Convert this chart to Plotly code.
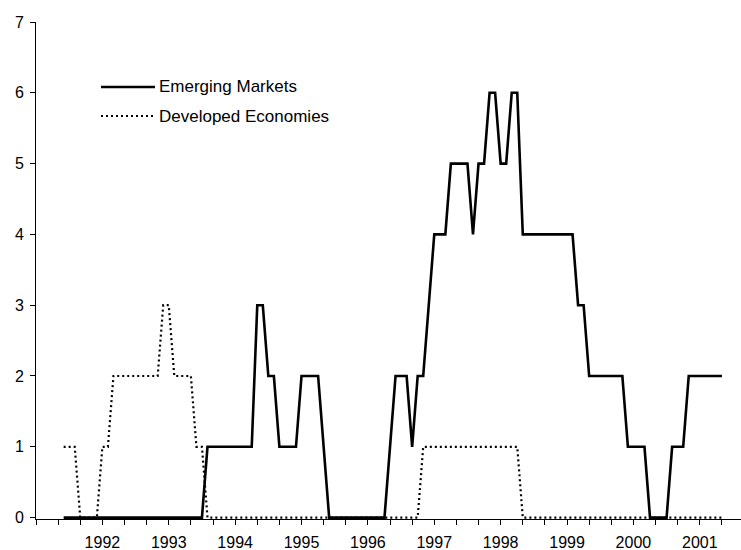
import plotly.graph_objects as go

# Monthly observations, June 1991 .. May 2001 (month index: 0 = Jan 1991)
month_index = list(range(5, 125))

emerging_markets = [
    0, 0, 0, 0, 0, 0, 0,                     # 1991 Jun-Dec
    0, 0, 0, 0, 0, 0, 0, 0, 0, 0, 0, 0,      # 1992
    0, 0, 0, 0, 0, 0, 0, 1, 1, 1, 1, 1,      # 1993
    1, 1, 1, 1, 3, 3, 2, 2, 1, 1, 1, 1,      # 1994
    2, 2, 2, 2, 1, 0, 0, 0, 0, 0, 0, 0,      # 1995
    0, 0, 0, 0, 1, 2, 2, 2, 1, 2, 2, 3,      # 1996
    4, 4, 4, 5, 5, 5, 5, 4, 5, 5, 6, 6,      # 1997
    5, 5, 6, 6, 4, 4, 4, 4, 4, 4, 4, 4,      # 1998
    4, 4, 3, 3, 2, 2, 2, 2, 2, 2, 2, 1,      # 1999
    1, 1, 1, 0, 0, 0, 0, 1, 1, 1, 2, 2,      # 2000
    2, 2, 2, 2, 2,                           # 2001 Jan-May
]

developed_economies = [
    1, 1, 1, 0, 0, 0, 0,                     # 1991 Jun-Dec
    1, 1, 2, 2, 2, 2, 2, 2, 2, 2, 2, 3,      # 1992
    3, 2, 2, 2, 2, 1, 1, 0, 0, 0, 0, 0,      # 1993
    0, 0, 0, 0, 0, 0, 0, 0, 0, 0, 0, 0,      # 1994
    0, 0, 0, 0, 0, 0, 0, 0, 0, 0, 0, 0,      # 1995
    0, 0, 0, 0, 0, 0, 0, 0, 0, 0, 1, 1,      # 1996
    1, 1, 1, 1, 1, 1, 1, 1, 1, 1, 1, 1,      # 1997
    1, 1, 1, 1, 0, 0, 0, 0, 0, 0, 0, 0,      # 1998
    0, 0, 0, 0, 0, 0, 0, 0, 0, 0, 0, 0,      # 1999
    0, 0, 0, 0, 0, 0, 0, 0, 0, 0, 0, 0,      # 2000
    0, 0, 0, 0, 0,                           # 2001 Jan-May
]

year_labels = ["1992", "1993", "1994", "1995", "1996",
               "1997", "1998", "1999", "2000", "2001"]
series_names = ["Emerging Markets", "Developed Economies"]
y_ticks = [0, 1, 2, 3, 4, 5, 6, 7]

FONT = "Liberation Sans, Arial, sans-serif"

# tick marks every 4 months, year label at each January
tick_vals = list(range(0, 125, 4))
tick_text = []
for v in tick_vals:
    if v % 12 == 0 and 1 <= v // 12 <= len(year_labels):
        tick_text.append(year_labels[v // 12 - 1])
    else:
        tick_text.append("")

fig = go.Figure()
fig.add_trace(go.Scatter(
    x=month_index, y=emerging_markets, mode="lines", name=series_names[0],
    line=dict(color="black", width=2.6), showlegend=False,
))
fig.add_trace(go.Scatter(
    x=month_index, y=developed_economies, mode="lines", name=series_names[1],
    line=dict(color="black", width=2.2, dash="2px,3px"), showlegend=False,
))

W, H = 741, 550
ML, MR, MT, MB = 36, 0, 22, 31


def px_to_paper(px, py):
    return ((px - ML) / (W - ML - MR), 1 - (py - MT) / (H - MT - MB))


# hand-drawn legend (longer line samples than plotly's legend)
legend_rows = [
    (87, dict(color="black", width=2.6)),
    (116, dict(color="black", width=2.2, dash="2px,3px")),
]
for (py, ln), name in zip(legend_rows, series_names):
    x0, y0 = px_to_paper(101, py)
    x1, _ = px_to_paper(155, py)
    fig.add_shape(type="line", xref="paper", yref="paper",
                  x0=x0, x1=x1, y0=y0, y1=y0, line=ln)
    tx, ty = px_to_paper(157, py)
    fig.add_annotation(xref="paper", yref="paper", x=tx, y=ty,
                       text=name, showarrow=False, xanchor="left",
                       yanchor="middle",
                       font=dict(family=FONT, size=17, color="black"))

fig.update_layout(
    width=W, height=H,
    margin=dict(l=ML, r=MR, t=MT, b=MB, pad=0, autoexpand=False),
    paper_bgcolor="white", plot_bgcolor="white",
    font=dict(family=FONT, size=16, color="black"),
    xaxis=dict(
        range=[0, 127.45], showgrid=False, zeroline=False, automargin=False,
        showline=True, linecolor="black", linewidth=1,
        ticks="outside", ticklen=5, tickcolor="black", tickwidth=1,
        tickvals=tick_vals, ticktext=tick_text, tickangle=0,
        ticklabelstandoff=4,
    ),
    yaxis=dict(
        range=[-0.02, 7], showgrid=False, zeroline=False, automargin=False,
        showline=True, linecolor="black", linewidth=1,
        ticks="outside", ticklen=5, tickcolor="black", tickwidth=1,
        tickvals=y_ticks, ticklabelstandoff=3,
    ),
)

fig.write_html(
    "out.html",
    config={"displayModeBar": False},
    post_script="document.body.style.margin='0';document.body.style.overflow='hidden';",
)
